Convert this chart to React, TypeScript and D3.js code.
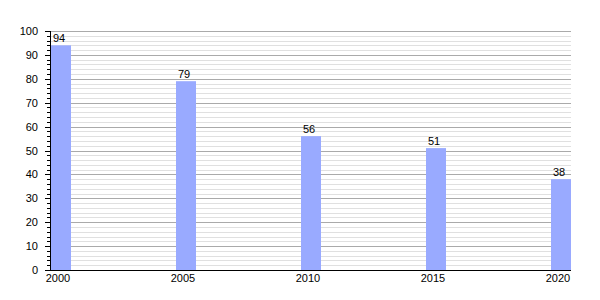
import React from "react";
import * as d3 from "d3";

const years = [2000, 2005, 2010, 2015, 2020];
const values = [94, 79, 56, 51, 38];
const yTicks = [0, 10, 20, 30, 40, 50, 60, 70, 80, 90, 100];

const W = 600, H = 300;
const left = 50, right = 571, top = 31, bottom = 270;
const barW = 20;

export default function App() {
  const x = d3.scaleLinear().domain([2000, 2020]).range([left + 1, right - barW]);
  const y = d3.scaleLinear().domain([0, 100]).range([bottom, top]);
  const minor = d3.range(0, 101, 2).filter((v) => v % 10 !== 0);
  const font = "Liberation Sans, Arial, sans-serif";
  return (
    <svg width={W} height={H} style={{ position: "absolute", left: 0, top: 0 }} fontFamily={font}>
      <rect width={W} height={H} fill="#fff" />
      {minor.map((v) => (
        <line key={"m" + v} x1={left} x2={right} y1={Math.round(y(v)) + 0.5} y2={Math.round(y(v)) + 0.5} stroke="#e0e0e0" />
      ))}
      {yTicks.map((v) => (
        <line key={"g" + v} x1={left} x2={right} y1={Math.round(y(v)) + 0.5} y2={Math.round(y(v)) + 0.5} stroke="#aaaaaa" />
      ))}
      {years.map((yr, i) => (
        <g key={yr}>
          <rect x={x(yr)} y={y(values[i])} width={barW} height={bottom - y(values[i])} fill="#99aaff" />
          <text x={x(yr) + barW / 2 - 2} y={y(values[i]) - 3} fontSize={11} textAnchor="middle" fill="#000">{values[i]}</text>
          <text x={x(yr) + barW / 2 - 3} y={282} fontSize={11} textAnchor="middle" fill="#000">{yr}</text>
        </g>
      ))}
      {minor.map((v) => (
        <line key={"mt" + v} x1={left - 3} x2={left} y1={Math.round(y(v)) + 0.5} y2={Math.round(y(v)) + 0.5} stroke="#000" />
      ))}
      {yTicks.map((v) => (
        <g key={"t" + v}>
          <line x1={left - 5} x2={left} y1={Math.round(y(v)) + 0.5} y2={Math.round(y(v)) + 0.5} stroke="#000" />
          <text x={38} y={y(v) + 4} fontSize={11} textAnchor="end" fill="#000">{v}</text>
        </g>
      ))}
      <line x1={left + 0.5} x2={left + 0.5} y1={top} y2={bottom} stroke="#000" />
      <line x1={left - 5} x2={right} y1={bottom + 0.5} y2={bottom + 0.5} stroke="#000" />
    </svg>
  );
}
